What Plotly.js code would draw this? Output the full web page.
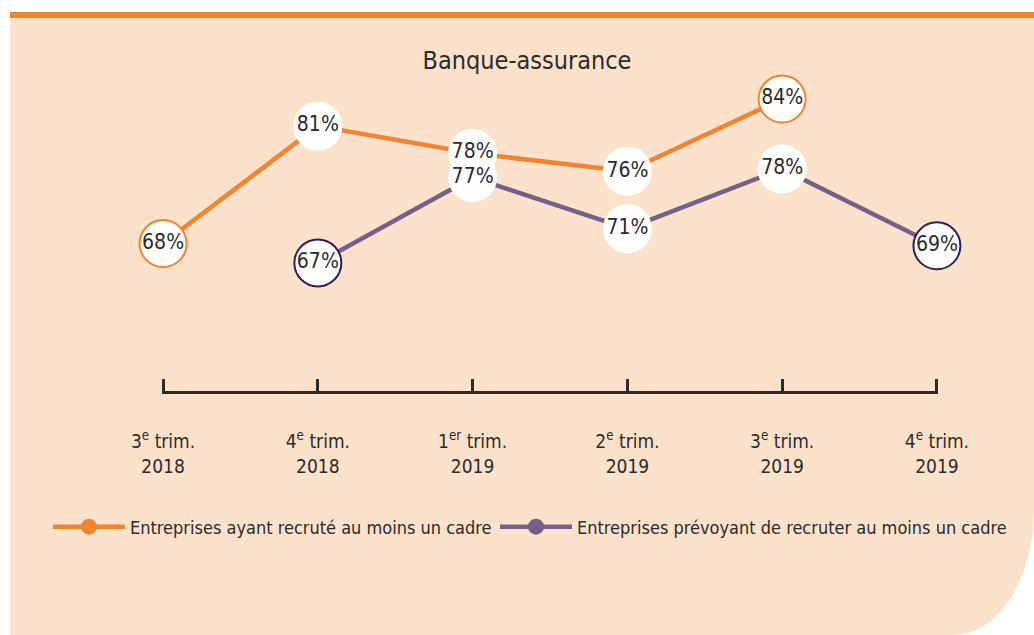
<!DOCTYPE html>
<html>
<head>
<meta charset="utf-8">
<script src="https://cdn.plot.ly/plotly-3.0.1.min.js"></script>
<style>
  html, body { margin:0; padding:0; background:#ffffff; width:1034px; height:635px; overflow:hidden; }
  #bg { position:absolute; left:10px; top:12px; width:1024px; height:623px; background:#fce1cb;
        border-top:6px solid #f28430; box-sizing:border-box; border-bottom-right-radius:80px 125px; }
  #chart { position:absolute; left:0; top:0; width:1034px; height:635px; }
</style>
</head>
<body>
<div id="bg"></div>
<div id="chart"></div>
<script>
const categories = ["3e 2018", "4e 2018", "1er 2019", "2e 2019", "3e 2019", "4e 2019"];
const tickLabels = ["3<sup>e</sup> trim.<br>2018", "4<sup>e</sup> trim.<br>2018", "1<sup>er</sup> trim.<br>2019",
                    "2<sup>e</sup> trim.<br>2019", "3<sup>e</sup> trim.<br>2019", "4<sup>e</sup> trim.<br>2019"];
const recrutX = ["3e 2018", "4e 2018", "1er 2019", "2e 2019", "3e 2019"];
const recrutY = [68, 81, 78, 76, 84];
const prevX = ["4e 2018", "1er 2019", "2e 2019", "3e 2019", "4e 2019"];
const prevY = [67, 77, 71, 78, 69];
const seriesNames = ["Entreprises ayant recruté au moins un cadre", "Entreprises prévoyant de recruter au moins un cadre"];

const ORANGE = "#f28430", PURPLE = "#75608a", NAVY = "#2e1f5e", TXT = "#2b2b2b";
const FONT = "DejaVu Sans Condensed, Liberation Sans Narrow, Roboto, sans-serif";
const RANGE_RECRUT = [51.67, 86.11];
const RANGE_PREV = [52.01, 88.40];

const edge = (n, c) => Array.from({length:n}, (_, i) => (i === 0 || i === n - 1) ? c : "#ffffff");

const lineTrace = (x, y, yaxis, lc, ec) => ({
  x: x, y: y, yaxis: yaxis, type: "scatter", mode: "lines+markers",
  line: { color: lc, width: 4.5 },
  marker: { size: 47, color: "#ffffff", line: { color: edge(y.length, ec), width: 2 } },
  cliponaxis: false, showlegend: false, hoverinfo: "skip" });
const textTrace = (x, y, yaxis) => ({
  x: x, y: y, yaxis: yaxis, type: "scatter", mode: "text",
  text: y.map(v => v + "%"), textposition: "middle center",
  textfont: { family: FONT, size: 21, color: TXT },
  cliponaxis: false, showlegend: false, hoverinfo: "skip" });

const traces = [
  lineTrace(recrutX, recrutY, "y", ORANGE, ORANGE),
  lineTrace(prevX, prevY, "y2", PURPLE, NAVY),
  textTrace(prevX, prevY, "y2"),
  textTrace(recrutX, recrutY, "y3"),
  { x: [null], y: [null], type: "scatter", mode: "lines+markers", name: seriesNames[0], legend: "legend",
    line: { color: ORANGE, width: 4.5 }, marker: { size: 20, color: ORANGE } },
  { x: [null], y: [null], type: "scatter", mode: "lines+markers", name: seriesNames[1], legend: "legend2",
    line: { color: PURPLE, width: 4.5 }, marker: { size: 20, color: PURPLE } }
];

const hiddenY = r => ({ range: r, visible: false, showgrid: false, zeroline: false, fixedrange: true });
const PLOT_L = 162, PLOT_W = 776, PLOT_B = 391, PLOT_H = 311;
const legendAt = px => ({ orientation: "h", xref: "paper", yref: "paper",
  x: (px - PLOT_L) / PLOT_W, y: (PLOT_B - 527) / PLOT_H, xanchor: "left", yanchor: "middle",
  bgcolor: "rgba(0,0,0,0)", font: { family: FONT, size: 18, color: TXT }, itemwidth: 72 });

const layout = {
  width: 1034, height: 635,
  paper_bgcolor: "rgba(0,0,0,0)", plot_bgcolor: "rgba(0,0,0,0)",
  margin: { l: PLOT_L, r: 1034 - PLOT_L - PLOT_W, t: 80, b: 635 - PLOT_B },
  font: { family: FONT, color: TXT },
  title: { text: "Banque-assurance", font: { family: FONT, size: 25, color: TXT },
           xref: "container", x: 527/1034, xanchor: "center",
           yref: "container", y: 1 - 60/635, yanchor: "middle" },
  xaxis: { type: "category", categoryorder: "array", categoryarray: categories,
           range: [-0.007, 5.007], tickvals: categories, ticktext: tickLabels,
           showgrid: false, zeroline: false, showline: true, linecolor: TXT, linewidth: 3,
           ticks: "inside", ticklen: 12, tickwidth: 3, tickcolor: TXT,
           ticklabelstandoff: 31, tickfont: { family: FONT, size: 19, color: TXT }, fixedrange: true },
  yaxis: hiddenY(RANGE_RECRUT),
  yaxis2: Object.assign(hiddenY(RANGE_PREV), { overlaying: "y" }),
  yaxis3: Object.assign(hiddenY(RANGE_RECRUT), { overlaying: "y" }),
  showlegend: true,
  legend: legendAt(48),
  legend2: legendAt(495),
  annotations: [
    { text: "Source : Apec, Baromètre trimestriel de recrutement cadres, 2019",
      xref: "container", yref: "container", x: 140/1034, y: 1 - 607/635,
      xanchor: "left", yanchor: "middle", showarrow: false,
      font: { family: FONT, size: 11, color: "#3a3a3a" } }
  ]
};

Plotly.newPlot("chart", traces, layout, { displayModeBar: false, staticPlot: true });
</script>
</body>
</html>
